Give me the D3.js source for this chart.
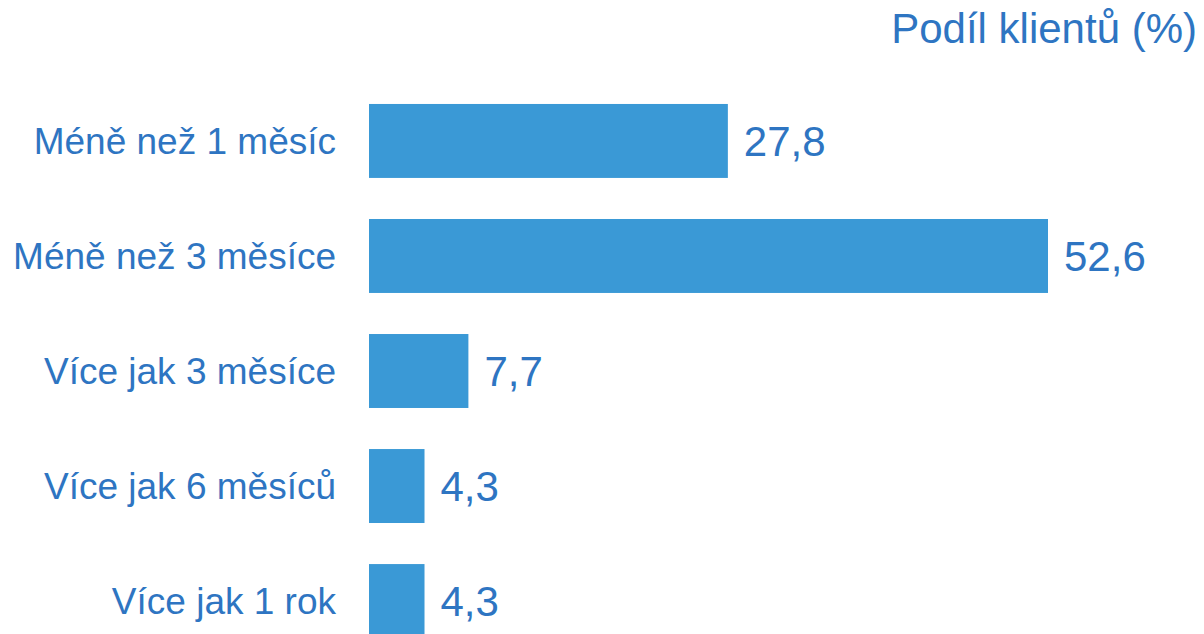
<!DOCTYPE html>
<html lang="cs">
<head>
<meta charset="UTF-8">
<title>Podíl klientů</title>
<script src="https://d3js.org/d3.v7.min.js"></script>
<style>
  html, body { margin: 0; padding: 0; background: #fff; overflow: hidden; }
  text { font-family: "Liberation Sans", Arial, sans-serif; fill: #2e75c2; }
</style>
</head>
<body>
<svg id="chart" width="1204" height="634"></svg>
<script>
  // data
  const categories = ["Méně než 1 měsíc", "Méně než 3 měsíce", "Více jak 3 měsíce", "Více jak 6 měsíců", "Více jak 1 rok"];
  const values = [27.8, 52.6, 7.7, 4.3, 4.3];
  const axisTitle = "Podíl klientů (%)";

  const svg = d3.select("#chart");

  const x = d3.scaleLinear()
    .domain([0, d3.max(values)])
    .range([369, 1048]);

  const y = d3.scaleBand()
    .domain(categories)
    .range([83.5, 83.5 + 5 * 115])
    .paddingInner(0.357)
    .paddingOuter(0.178);

  const rows = categories.map((c, i) => ({ cat: c, val: values[i] }));

  // bars
  svg.selectAll("rect.bar")
    .data(rows)
    .enter().append("rect")
    .attr("class", "bar")
    .attr("x", x(0))
    .attr("y", d => y(d.cat))
    .attr("width", d => x(d.val) - x(0))
    .attr("height", y.bandwidth())
    .attr("fill", "#3a99d6");

  // category labels
  svg.selectAll("text.cat")
    .data(rows)
    .enter().append("text")
    .attr("class", "cat")
    .attr("x", x(0) - 33)
    .attr("y", d => y(d.cat) + y.bandwidth() / 2 + 13)
    .attr("text-anchor", "end")
    .style("font-size", "37px")
    .text(d => d.cat);

  // value labels
  svg.selectAll("text.val")
    .data(rows)
    .enter().append("text")
    .attr("class", "val")
    .attr("x", d => x(d.val) + 16)
    .attr("y", d => y(d.cat) + y.bandwidth() / 2 + 15)
    .style("font-size", "42px")
    .text(d => d.val.toFixed(1).replace(".", ","));

  // axis title
  svg.append("text")
    .attr("x", 1197)
    .attr("y", 43)
    .attr("text-anchor", "end")
    .style("font-size", "42px")
    .text(axisTitle);
</script>
</body>
</html>
